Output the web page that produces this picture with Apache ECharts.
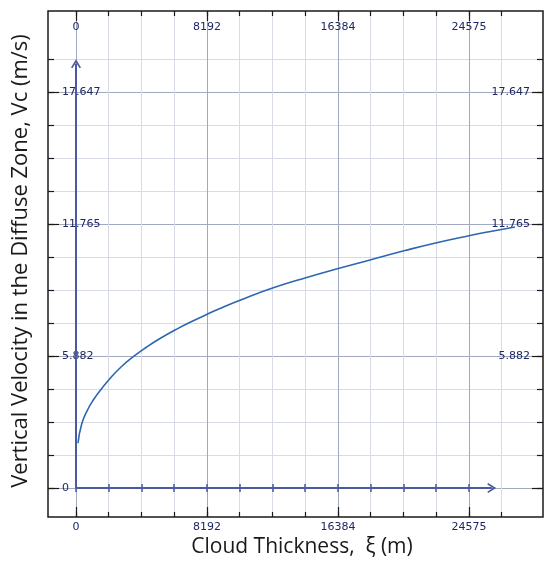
<!DOCTYPE html>
<html>
<head>
<meta charset="utf-8">
<script src="https://cdn.jsdelivr.net/npm/echarts@6/dist/echarts.min.js"></script>
<style>html,body{margin:0;padding:0;background:#fff;}#c{width:550px;height:565px;}</style>
</head>
<body>
<div id="c"></div>
<script>
// ---- data ----
const X_TICKS = [0, 2048, 4096, 6144, 8192, 10240, 12288, 14336, 16384, 18432, 20480, 22528, 24576, 26624];
const X_AXIS_TICKS = [0, 2048, 4096, 6144, 8192, 10240, 12288, 14336, 16384, 18432, 20480, 22528, 24576];
const X_LABELS = [0, 8192, 16384, 24575];
const Y_TICKS = [0, 1.471, 2.941, 4.412, 5.882, 7.353, 8.824, 10.294, 11.765, 13.235, 14.706, 16.176, 17.647, 19.118];
const Y_LABELS_LEFT = [0, 5.882, 11.765, 17.647];
const Y_LABELS_RIGHT = [5.882, 11.765, 17.647];
const X_RANGE = [-1751, 29204];
const Y_RANGE = [-1.29, 21.25];
const ARROW_X_END = 26000;
const ARROW_Y_END = 18.9;

const XI = [125, 356, 700, 1082, 1600, 2126, 2800, 3583, 4400, 5253, 6300, 7336, 8234, 9005, 10256, 12338, 14425, 16403, 18385, 20574, 22556, 24639, 26000, 27452];
const VC = [2.0, 2.85, 3.45, 3.92, 4.42, 4.88, 5.38, 5.85, 6.27, 6.66, 7.08, 7.45, 7.75, 8.0, 8.37, 8.92, 9.38, 9.78, 10.16, 10.58, 10.93, 11.25, 11.44, 11.63];

const X_TITLE = 'Cloud Thickness,  ξ (m)';
const Y_TITLE = 'Vertical Velocity in the Diffuse Zone, Vc (m/s)';

// ---- styles ----
const NAVY = '#1e2766';
const AXIS_BLUE = '#4a5a9e';
const FRAME = '#1a1a1a';
const MAJOR = '#a2a9be';
const MINOR = '#d6dbe7';
const gridColors = [MAJOR, MINOR, MINOR, MINOR];
const fmt = v => String(v);
const labelFont = { fontFamily: 'DejaVu Sans', fontSize: 11, color: NAVY };

function xAx(o) {
  return Object.assign({
    type: 'value', min: X_RANGE[0], max: X_RANGE[1],
    axisLine: { show: false }, axisLabel: { show: false },
    splitLine: { show: false }, axisTick: { show: false }
  }, o);
}
function yAx(o) {
  return Object.assign({
    type: 'value', min: Y_RANGE[0], max: Y_RANGE[1],
    axisLine: { show: false }, axisLabel: { show: false },
    splitLine: { show: false }, axisTick: { show: false }
  }, o);
}

const chart = echarts.init(document.getElementById('c'), null, { renderer: 'canvas' });
chart.setOption({
  backgroundColor: '#ffffff',
  animation: false,
  grid: { left: 48, right: 7, top: 11, bottom: 48, show: true, borderColor: FRAME, borderWidth: 1.5, backgroundColor: 'transparent' },
  xAxis: [
    // 0: main axis along value 0 (ticks below the arrow line, labels)
    xAx({ position: 'bottom', axisLine: { show: false, onZero: true, onZeroAxisIndex: 0 },
      axisTick: { show: true, customValues: X_AXIS_TICKS, length: 4, inside: false, lineStyle: { color: AXIS_BLUE, width: 1.5 } },
      axisLabel: Object.assign({ show: true, customValues: X_LABELS, margin: 5, formatter: fmt }, labelFont),
      splitLine: { show: false }
    }),
    // 1: ticks above the arrow line
    xAx({ position: 'bottom', axisLine: { show: false, onZero: true, onZeroAxisIndex: 0 },
      axisTick: { show: true, customValues: X_AXIS_TICKS, length: 4, inside: true, lineStyle: { color: AXIS_BLUE, width: 1.5 } }
    }),
    // 2: top frame, minor ticks + labels + vertical grid
    xAx({ position: 'top', axisLine: { show: false, onZero: false },
      axisTick: { show: true, customValues: X_TICKS, length: 5, inside: true, lineStyle: { color: FRAME, width: 1.2 } },
      axisLabel: Object.assign({ show: true, customValues: X_LABELS, inside: true, margin: 11, formatter: fmt }, labelFont),
      splitLine: { show: true, lineStyle: { color: gridColors, width: 1 } }
    }),
    // 3: top frame major ticks
    xAx({ position: 'top', axisLine: { show: false, onZero: false },
      axisTick: { show: true, customValues: X_LABELS, length: 10, inside: true, lineStyle: { color: FRAME, width: 1.2 } }
    }),
    // 4: bottom frame minor ticks
    xAx({ position: 'bottom', axisLine: { show: false, onZero: false },
      axisTick: { show: true, customValues: X_TICKS, length: 5, inside: true, lineStyle: { color: FRAME, width: 1.2 } }
    }),
    // 5: bottom frame major ticks
    xAx({ position: 'bottom', axisLine: { show: false, onZero: false },
      axisTick: { show: true, customValues: X_LABELS, length: 10, inside: true, lineStyle: { color: FRAME, width: 1.2 } }
    })
  ],
  yAxis: [
    yAx({ position: 'left', axisLine: { show: false, onZero: false },
      axisTick: { show: true, customValues: Y_TICKS, length: 6, inside: true, lineStyle: { color: FRAME, width: 1.2 } },
      axisLabel: Object.assign({ show: true, customValues: Y_LABELS_LEFT, inside: true, margin: 14, formatter: fmt }, labelFont),
      splitLine: { show: true, lineStyle: { color: gridColors, width: 1 } }
    }),
    yAx({ position: 'left', axisLine: { show: false, onZero: false },
      axisTick: { show: true, customValues: Y_LABELS_LEFT, length: 11, inside: true, lineStyle: { color: FRAME, width: 1.2 } }
    }),
    yAx({ position: 'right', axisLine: { show: false, onZero: false },
      axisTick: { show: true, customValues: Y_TICKS, length: 6, inside: true, lineStyle: { color: FRAME, width: 1.2 } },
      axisLabel: Object.assign({ show: true, customValues: Y_LABELS_RIGHT, inside: true, margin: 13, formatter: fmt }, labelFont)
    }),
    yAx({ position: 'right', axisLine: { show: false, onZero: false },
      axisTick: { show: true, customValues: Y_LABELS_LEFT, length: 11, inside: true, lineStyle: { color: FRAME, width: 1.2 } }
    })
  ],
  graphic: [
    { type: 'text', x: 302, y: 547, silent: true,
      style: { text: X_TITLE, fill: '#1a1a1a', font: '21px "Open Sans"', textAlign: 'center', textVerticalAlign: 'middle' } },
    { type: 'text', x: 21, y: 261, rotation: Math.PI / 2, silent: true,
      style: { text: Y_TITLE, fill: '#1a1a1a', font: '22px "Open Sans"', textAlign: 'center', textVerticalAlign: 'middle' } }
  ],
  series: [
    {
      type: 'line', xAxisIndex: 0, yAxisIndex: 0,
      data: XI.map((x, i) => [x, VC[i]]),
      smooth: true, showSymbol: false, symbol: 'none',
      lineStyle: { color: '#2e66b0', width: 1.6 },
      silent: true, z: 5,
      markLine: {
        silent: true, animation: false,
        symbol: ['none', 'path://M0,10 L5,0 L10,10 L8.6,11 L5,4 L1.4,11 Z'],
        symbolSize: [10, 9],
        label: { show: false },
        lineStyle: { color: AXIS_BLUE, width: 2, type: 'solid' },
        emphasis: { disabled: true },
        data: [
          [{ coord: [0, 0] }, { coord: [ARROW_X_END, 0] }],
          [{ coord: [0, 0] }, { coord: [0, ARROW_Y_END] }]
        ]
      }
    }
  ]
});
</script>
</body>
</html>
